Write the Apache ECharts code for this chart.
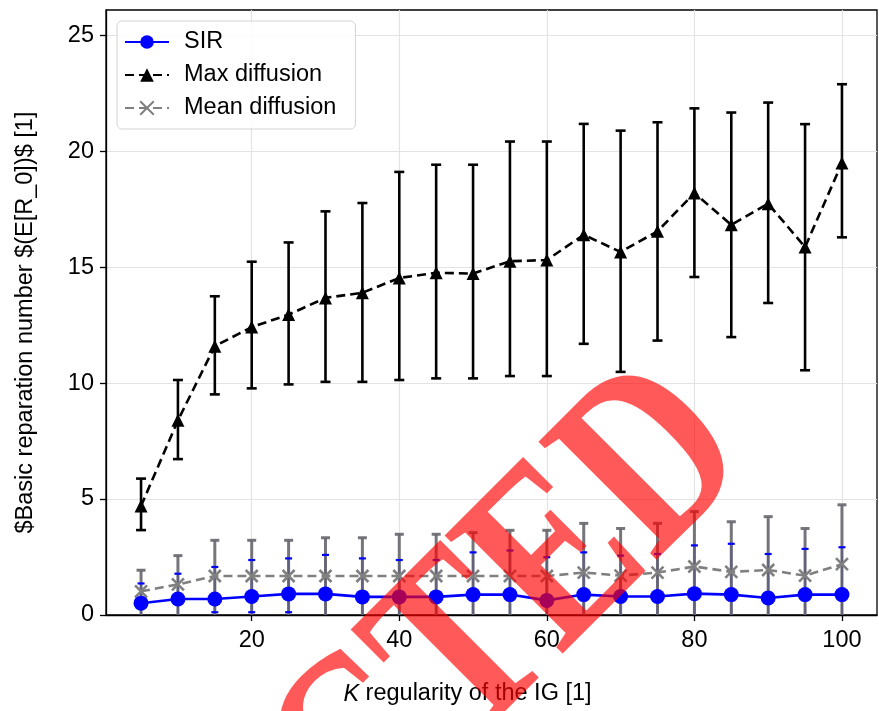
<!DOCTYPE html>
<html><head><meta charset="utf-8">
<script src="https://cdn.jsdelivr.net/npm/echarts@6/dist/echarts.min.js"></script>
<style>html,body{margin:0;padding:0;background:#fff}#c{width:879px;height:711px}</style>
</head><body><div id="c"></div>
<script>
// ---- data ----
const kValues = [5,10,15,20,25,30,35,40,45,50,55,60,65,70,75,80,85,90,95,100];

const sirMean = [0.51,0.69,0.69,0.80,0.91,0.91,0.78,0.78,0.78,0.88,0.88,0.63,0.88,0.80,0.80,0.92,0.88,0.73,0.88,0.88];
const sirLow  = [-0.34,-0.40,0.12,0.12,0.12,-0.77,-0.88,-0.81,-0.81,-0.94,-1.02,-1.23,-0.94,-0.96,-1.03,-1.16,-1.31,-1.17,-1.09,-1.16];
const sirHigh = [1.36,1.78,2.07,2.37,2.44,2.59,2.44,2.37,2.37,2.70,2.78,2.49,2.70,2.56,2.63,3.00,3.07,2.63,2.85,2.92];

const maxMean = [4.70,8.39,11.59,12.41,12.95,13.67,13.89,14.53,14.75,14.72,15.25,15.30,16.39,15.65,16.54,18.19,16.82,17.73,15.86,19.48];
const maxLow  = [3.66,6.72,9.51,9.77,9.94,10.05,10.05,10.13,10.20,10.20,10.30,10.30,11.69,10.48,11.83,14.57,11.98,13.45,10.55,16.28];
const maxHigh = [5.88,10.13,13.74,15.23,16.06,17.40,17.76,19.10,19.41,19.41,20.41,20.41,21.17,20.88,21.24,21.84,21.66,22.09,21.16,22.88];

const meanMean = [1.02,1.32,1.68,1.68,1.68,1.68,1.68,1.68,1.68,1.68,1.68,1.68,1.83,1.70,1.83,2.09,1.86,1.94,1.70,2.19];
const meanLow  = [-0.10,-0.10,-0.10,-0.10,-0.10,-0.10,-0.10,-0.12,-0.12,-0.19,-0.29,-0.29,-0.29,-0.33,-0.29,-0.28,-0.30,-0.36,-0.33,-0.37];
const meanHigh = [1.93,2.56,3.22,3.22,3.22,3.33,3.33,3.48,3.48,3.55,3.65,3.65,3.95,3.73,3.95,4.46,4.02,4.24,3.73,4.75];

const xTicks = [20,40,60,80,100];
const yTicks = [0,5,10,15,20,25];
const seriesNames = ['SIR','Max diffusion','Mean diffusion'];
const yLabel = '$Basic reparation number $(E[R_0])$ [1]';
const watermark = 'REJECTED';

// ---- chart ----
const FONT = 'Liberation Sans';
const FS = 23.5;
const chart = echarts.init(document.getElementById('c'), null, {renderer:'canvas'});

function lineData(vals){ return kValues.map((k,i)=>[k, vals[i]]); }
function errData(lo, hi){ return kValues.map((k,i)=>[k, lo[i], hi[i]]); }

function errSeries(name, lo, hi, color, width, capHalf, z, drawLine, drawCaps){
  return {
    type:'custom', name:name, z:z, clip:true, silent:true,
    data: errData(lo, hi),
    encode:{x:0, y:[1,2]},
    renderItem: function(params, api){
      const x = api.value(0), l = api.value(1), h = api.value(2);
      const pl = api.coord([x,l]), ph = api.coord([x,h]);
      const st = {stroke:color, lineWidth:width, lineCap:'butt'};
      const ch = [];
      if (drawLine) ch.push({type:'line', shape:{x1:pl[0],y1:pl[1],x2:ph[0],y2:ph[1]}, style:st});
      if (drawCaps){
        ch.push({type:'line', shape:{x1:ph[0]-capHalf,y1:ph[1],x2:ph[0]+capHalf,y2:ph[1]}, style:st});
        ch.push({type:'line', shape:{x1:pl[0]-capHalf,y1:pl[1],x2:pl[0]+capHalf,y2:pl[1]}, style:st});
      }
      return {type:'group', children:ch};
    }
  };
}

const BLUE = '#0000ff', BLACK = '#000000', GRAY = '#808080', GRAYBAR = 'rgba(105,105,112,0.92)';

const option = {
  animation:false,
  backgroundColor:'#ffffff',
  textStyle:{fontFamily:FONT},
  grid:{left:106, right:2, top:10, bottom:95, show:true, borderColor:'#000', borderWidth:1.3, backgroundColor:'transparent'},
  legend:{
    data:seriesNames, orient:'vertical', left:117, top:21,
    padding:[9,19,9,7], itemGap:9, itemWidth:44, itemHeight:17,
    backgroundColor:'rgba(255,255,255,0.85)', borderColor:'#d4d4d4', borderWidth:1, borderRadius:5,
    textStyle:{fontFamily:FONT, fontSize:FS, color:'#000', lineHeight:24, padding:[0,0,0,10]},
    selectedMode:false
  },
  xAxis:{
    type:'value', min:0.25, max:104.75,
    name:'{i|K} regularity of the IG [1]', nameLocation:'middle', nameGap:67,
    nameTextStyle:{fontFamily:FONT, fontSize:FS, color:'#000', padding:[0,48,0,0],
      rich:{i:{fontStyle:'italic', fontFamily:FONT, fontSize:FS, color:'#000'}}},
    axisLine:{show:true, onZero:false, lineStyle:{color:'#000', width:1.3}},
    axisTick:{show:true, length:6, lineStyle:{color:'#000', width:1.3}, customValues:xTicks},
    axisLabel:{fontFamily:FONT, fontSize:FS, color:'#000', margin:14, customValues:xTicks},
    splitLine:{show:true, lineStyle:{color:'#e3e3e3', width:1.2}}
  },
  yAxis:{
    type:'value', min:0, max:26.08,
    name:yLabel, nameLocation:'middle', nameGap:68, nameRotate:90,
    nameTextStyle:{fontFamily:FONT, fontSize:FS, color:'#000', padding:[0,20,0,0]},
    axisLine:{show:true, onZero:false, lineStyle:{color:'#000', width:1.3}},
    axisTick:{show:true, length:6, lineStyle:{color:'#000', width:1.3}, customValues:yTicks},
    axisLabel:{fontFamily:FONT, fontSize:FS, color:'#000', margin:12, customValues:yTicks},
    splitLine:{show:true, lineStyle:{color:'#e3e3e3', width:1.2}}
  },
  series:[
    errSeries('SIR err', sirLow, sirHigh, BLUE, 2, 4, 1, true, false),
    errSeries('Max err', maxLow, maxHigh, BLACK, 2.6, 5, 2, true, true),
    errSeries('Mean err', meanLow, meanHigh, GRAYBAR, 3, 4.5, 3, true, true),
    errSeries('SIR caps', sirLow, sirHigh, BLUE, 2.2, 3.5, 4, false, true),
    {
      type:'line', name:'Mean diffusion', z:5, data:lineData(meanMean),
      symbol:'path://M0 0L10 10M10 0L0 10', symbolSize:12,
      itemStyle:{color:'rgba(0,0,0,0)', borderColor:GRAY, borderWidth:2.6},
      lineStyle:{color:GRAY, width:2.6, type:[9,5]}
    },
    {
      type:'line', name:'Max diffusion', z:6, data:lineData(maxMean),
      symbol:'triangle', symbolSize:13,
      itemStyle:{color:BLACK},
      lineStyle:{color:BLACK, width:2.6, type:[9,5]}
    },
    {
      type:'line', name:'SIR', z:7, data:lineData(sirMean),
      symbol:'circle', symbolSize:15,
      itemStyle:{color:BLUE},
      lineStyle:{color:BLUE, width:2.6}
    }
  ],
  graphic:[{
    type:'text', z:100, x:709, y:414, rotation:45*Math.PI/180, scaleX:0.78, scaleY:1, silent:true,
    style:{text:watermark, font:'bold 255px "Liberation Serif"', fill:'rgba(255,0,0,0.65)', align:'right', verticalAlign:'middle'}
  }]
};
chart.setOption(option);
</script>
</body></html>
